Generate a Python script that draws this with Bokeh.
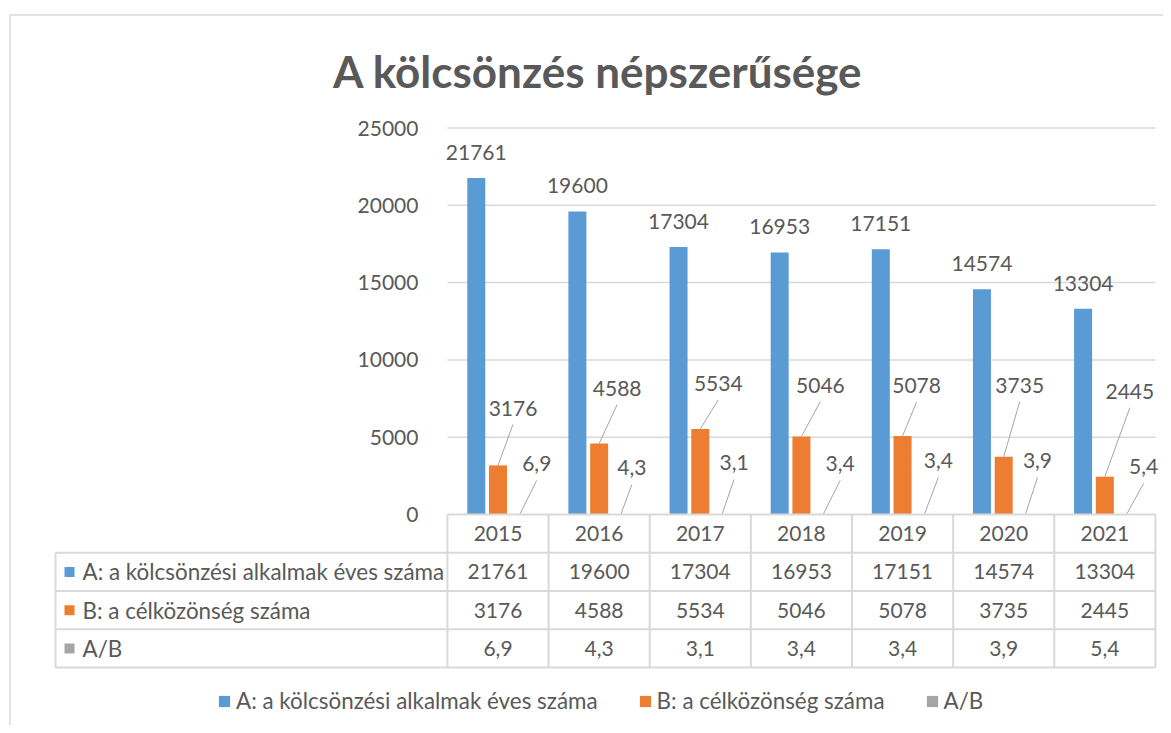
from bokeh.plotting import figure
from bokeh.models import Range1d, LinearAxis, FixedTicker, Legend, LegendItem
from bokeh.core.properties import value
from bokeh.embed import file_html
from bokeh.resources import INLINE

# ---------------- data ----------------
chart_title = "A kölcsönzés népszerűsége"
years = ["2015", "2016", "2017", "2018", "2019", "2020", "2021"]
series_names = ["A: a kölcsönzési alkalmak éves száma", "B: a célközönség száma", "A/B"]
a_values = [21761, 19600, 17304, 16953, 17151, 14574, 13304]
b_values = [3176, 4588, 5534, 5046, 5078, 3735, 2445]
ratio_values = [6.9, 4.3, 3.1, 3.4, 3.4, 3.9, 5.4]
y_ticks = [0, 5000, 10000, 15000, 20000, 25000]

# ---------------- style / layout ----------------
colors = ["#5b9bd5", "#ed7d31", "#a5a5a5"]
TEXT = "#595959"
LINE = "#d9d9d9"
LEADER = "#a6a6a6"
FONT = "Lato"
FS = "21px"
FS_NAME = "22.4px"

W, H = 1163, 725
PAGE = 0
X0 = 497.5           # page x of first category centre
PX_X = 101.14        # px per category
Y0 = 514.0           # page y of value 0
PX_Y = 386.5 / 25000 # px per unit
ROW_H = 38.25        # table row height, px
TABLE_LEFT = 55.0    # page x of table left edge

bar_off = [-0.215, 0.0, 0.215]
bar_w = 0.178

# label offsets (px) for series B and A/B callouts
b_lbl_dx = [15, 18, 18, 19, 14, 16, 25]
b_lbl_dy = [57, 55, 45, 51, 50, 71, 85]
r_lbl_dx = [17, 11, 12, 17, 14, 12, 17]
r_lbl_dy = [51, 47, 52, 51, 54, 54, 48]


def xp(page_x):
    return (page_x - X0) / PX_X


def yp(page_y):
    return (Y0 - page_y) / PX_Y


def fmt(v):
    return f"{v:.1f}".replace(".", ",") if isinstance(v, float) else str(v)


n = len(years)
idx = list(range(n))

p = figure(width=W, height=H,
           x_range=Range1d(xp(PAGE), xp(PAGE + W)),
           y_range=Range1d(yp(PAGE + H), yp(PAGE)),
           x_axis_type=None, y_axis_type=None,
           min_border=0, toolbar_location=None, output_backend="svg",
           outline_line_color=None)

# outer chart border
p.quad(left=[xp(9.5)], right=[xp(1400)], top=[yp(14.5)], bottom=[yp(1000)],
       fill_color=None, line_color=LINE, line_width=1.5)

# y axis
yaxis = LinearAxis(ticker=FixedTicker(ticks=y_ticks), fixed_location=-0.5)
yaxis.axis_line_color = None
yaxis.major_tick_line_color = None
yaxis.minor_tick_line_color = None
yaxis.major_label_standoff = 23
yaxis.major_label_text_font = FONT
yaxis.major_label_text_font_size = FS
yaxis.major_label_text_color = TEXT
p.add_layout(yaxis, "left")

# grid lines
grid_ticks = [t for t in y_ticks if t > 0]
p.segment(x0=[-0.5] * len(grid_ticks), x1=[n - 0.5] * len(grid_ticks),
          y0=grid_ticks, y1=grid_ticks, line_color=LINE, line_width=1.5)

# bars
series = [a_values, b_values, ratio_values]
bar_renderers = []
for s, vals in enumerate(series):
    r = p.vbar(x=[i + bar_off[s] for i in idx], top=vals, bottom=0, width=bar_w,
               fill_color=colors[s], line_color=None)
    bar_renderers.append(r)

# data labels: series A above bars
p.text(x=[i + bar_off[0] for i in idx], y=[v + 25.5 / PX_Y for v in a_values],
       text=[fmt(v) for v in a_values], text_align="center", text_baseline="middle",
       text_font=value(FONT), text_font_size=FS, text_color=TEXT)

# series B callouts
bx = [i + bar_off[1] + b_lbl_dx[i] / PX_X for i in idx]
by = [b_values[i] + b_lbl_dy[i] / PX_Y for i in idx]
p.segment(x0=[i + bar_off[1] for i in idx], y0=b_values,
          x1=bx, y1=[y - 16 / PX_Y for y in by], line_color=LEADER, line_width=1)
p.text(x=bx, y=by, text=[fmt(v) for v in b_values], text_align="center",
       text_baseline="middle", text_font=value(FONT), text_font_size=FS, text_color=TEXT)

# A/B callouts
rx = [i + bar_off[2] + r_lbl_dx[i] / PX_X for i in idx]
ry = [ratio_values[i] + r_lbl_dy[i] / PX_Y for i in idx]
p.segment(x0=[i + bar_off[2] for i in idx], y0=ratio_values,
          x1=rx, y1=[y - 17 / PX_Y for y in ry], line_color=LEADER, line_width=1)
p.text(x=rx, y=ry, text=[fmt(v) for v in ratio_values], text_align="center",
       text_baseline="middle", text_font=value(FONT), text_font_size=FS, text_color=TEXT)

# ---------------- data table ----------------
row_y = [yp(Y0 + ROW_H * k) for k in range(5)]           # boundaries
row_c = [yp(Y0 + ROW_H * (k + 0.5)) for k in range(4)]   # centres
x_left = xp(TABLE_LEFT)

# horizontal lines
p.segment(x0=[-0.5] + [x_left] * 4, x1=[n - 0.5] * 5, y0=row_y, y1=row_y,
          line_color=LINE, line_width=2)
# vertical lines
p.segment(x0=[k - 0.5 for k in range(n + 1)], x1=[k - 0.5 for k in range(n + 1)],
          y0=[row_y[0]] * (n + 1), y1=[row_y[4]] * (n + 1), line_color=LINE, line_width=2)
p.segment(x0=[x_left], x1=[x_left], y0=[row_y[1]], y1=[row_y[4]],
          line_color=LINE, line_width=2)

# header row (years)
p.text(x=idx, y=[row_c[0]] * n, text=years, text_align="center", text_baseline="middle",
       text_font=value(FONT), text_font_size=FS, text_color=TEXT)
# value rows
for s, vals in enumerate(series):
    p.text(x=idx, y=[row_c[s + 1]] * n, text=[fmt(v) for v in vals],
           text_align="center", text_baseline="middle",
           text_font=value(FONT), text_font_size=FS, text_color=TEXT)

# row labels with colour keys
p.rect(x=[xp(69)] * 3, y=row_c[1:], width=10, height=10, width_units="screen",
       height_units="screen", fill_color=colors, line_color=None)
p.text(x=[xp(82)] * 3, y=row_c[1:], text=series_names, text_align="left",
       text_baseline="middle", text_font=value(FONT), text_font_size=FS_NAME,
       text_color=TEXT)

# title
p.text(x=[xp(597.5)], y=[yp(70)], text=[chart_title], text_align="center",
       text_baseline="middle", text_font=value(FONT), text_font_size="44px",
       text_font_style="bold", text_color=TEXT)

# legend
legend = Legend(items=[LegendItem(label=series_names[s], renderers=[bar_renderers[s]])
                       for s in range(3)],
                orientation="horizontal", location=(217, 11),
                glyph_width=14, glyph_height=14, label_standoff=5, spacing=40,
                padding=0, margin=0, border_line_color=None, background_fill_alpha=0,
                label_text_font=FONT, label_text_font_size=FS_NAME, label_text_color=TEXT)
p.add_layout(legend, "center")

open("out.html", "w").write(file_html(p, INLINE))
